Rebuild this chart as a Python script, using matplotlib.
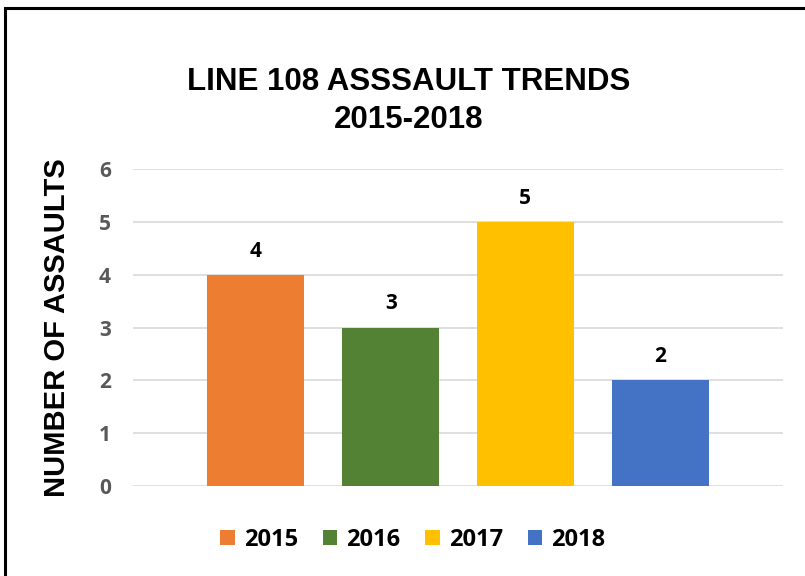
import matplotlib.pyplot as plt
from matplotlib.patches import Patch, Rectangle

# chart data
years = ["2015", "2016", "2017", "2018"]
assaults = [4, 3, 5, 2]
bar_colors = ["#ED7D31", "#548235", "#FFC000", "#4472C4"]
y_ticks = [0, 1, 2, 3, 4, 5, 6]

TITLE = "LINE 108 ASSSAULT TRENDS\n2015-2018"
Y_LABEL = "NUMBER OF ASSAULTS"

fig = plt.figure(figsize=(8.05, 5.76), dpi=100)
ax = fig.add_axes([133 / 805, 90 / 576, 650 / 805, 317 / 576])

x = list(range(len(years)))
bars = ax.bar(x, assaults, width=0.72, color=bar_colors, zorder=3)

for xi, v in zip(x, assaults):
    ax.annotate(str(v), (xi, v), xytext=(0, 13), textcoords="offset points",
                ha="center", va="baseline", fontsize=15, fontweight="bold",
                family="Open Sans", color="black")

ax.set_xlim(-0.913, 3.913)
ax.set_ylim(0, 6)
ax.set_yticks(y_ticks)
ax.set_xticks([])
ax.grid(axis="y", color="#D9D9D9", linewidth=1.2, zorder=0)
for side in ["top", "right", "left", "bottom"]:
    ax.spines[side].set_visible(False)
ax.tick_params(axis="y", length=0, pad=16, labelsize=15, labelcolor="#595959")
for lbl in ax.get_yticklabels():
    lbl.set_fontweight("bold")
    lbl.set_family("Open Sans")

ax.set_ylabel(Y_LABEL, fontsize=21, fontweight="bold", family="Liberation Sans", va="center")
ax.yaxis.set_label_coords(-0.117, 0.5)

fig.text(409 / 805, (576 - 101) / 576, TITLE, ha="center", va="center",
         fontsize=22.5, fontweight="bold", family="Liberation Sans", linespacing=1.38)

handles = [Patch(facecolor=c, label=y) for c, y in zip(bar_colors, years)]
fig.legend(handles=handles, loc="center", bbox_to_anchor=(413 / 805, 36 / 576),
           bbox_transform=fig.transFigure, ncol=4, frameon=False,
           prop={"family": "Open Sans", "weight": "bold", "size": 17},
           handlelength=0.6, handleheight=0.6, handletextpad=0.4, columnspacing=1.05)

# outer frame, cut off at right and bottom like the source picture
fig.patches.append(Rectangle((5 / 805, -0.05), 1.1, 0.05 + (576 - 7.5) / 576,
                             transform=fig.transFigure, fill=False,
                             edgecolor="black", linewidth=2.2))

fig.savefig("out.png", dpi=100)
